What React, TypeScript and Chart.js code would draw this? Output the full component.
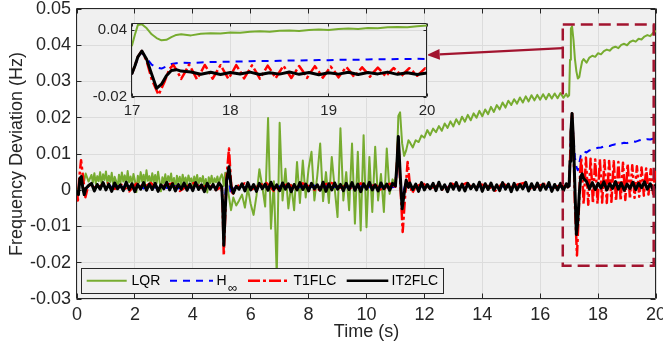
import React, { useEffect, useRef } from "react";
import { Chart, registerables } from "chart.js";

Chart.register(...registerables);

const FONT = '"Liberation Sans", Arial, Helvetica, sans-serif';
const TEXT = "#262626";
const MAROON = "#a2142f";

// ---------- axis ticks ----------
const mainXTicks = [0, 2, 4, 6, 8, 10, 12, 14, 16, 18, 20];
const mainYTicks = [-0.03, -0.02, -0.01, 0, 0.01, 0.02, 0.03, 0.04, 0.05];
const insetXTicks = [17, 18, 19, 20];
const insetYTicks = [-0.02, 0.04];

// ---------- time base (s) for H-inf and IT2FLC ----------
const timeMain = [
  0, 0.05, 0.1, 0.15, 0.2, 0.25, 0.3, 0.4,
  0.5, 0.6, 0.7, 0.8, 0.9, 1.0, 1.1, 1.2, 1.3, 1.4, 1.5, 1.6, 1.7, 1.8, 1.9, 2.0, 2.1, 2.2, 2.3, 2.4, 2.5,
  2.6, 2.7, 2.8, 2.9, 3.0, 3.1, 3.2, 3.3, 3.4, 3.5, 3.6, 3.7, 3.8, 3.9, 4.0, 4.1, 4.2, 4.3, 4.4, 4.5, 4.6, 4.7, 4.8, 4.9,
  5.0, 5.03, 5.07, 5.12, 5.17, 5.25, 5.32, 5.4, 5.5,
  5.6, 5.7, 5.8, 5.9, 6.0, 6.1, 6.2, 6.3, 6.4, 6.5, 6.6, 6.7, 6.8, 6.9, 7.0, 7.1, 7.2, 7.3, 7.4, 7.5, 7.6, 7.7, 7.8, 7.9,
  8.0, 8.1, 8.2, 8.3, 8.4, 8.5, 8.6, 8.7, 8.8, 8.9, 9.0, 9.1, 9.2, 9.3, 9.4, 9.5, 9.6, 9.7, 9.8, 9.9,
  10.0, 10.1, 10.2, 10.3, 10.4, 10.5, 10.6, 10.7, 10.8, 10.9,
  11.0, 11.05, 11.1, 11.16, 11.23, 11.3, 11.37, 11.45,
  11.5, 11.6, 11.7, 11.8, 11.9, 12.0, 12.1, 12.2, 12.3, 12.4, 12.5, 12.6, 12.7, 12.8, 12.9, 13.0, 13.1, 13.2, 13.3, 13.4,
  13.5, 13.6, 13.7, 13.8, 13.9, 14.0, 14.1, 14.2, 14.3, 14.4, 14.5, 14.6, 14.7, 14.8, 14.9, 15.0, 15.1, 15.2, 15.3, 15.4,
  15.5, 15.6, 15.7, 15.8, 15.9, 16.0, 16.1, 16.2, 16.3, 16.4, 16.5, 16.6, 16.7, 16.8, 16.9,
  16.95, 17.0, 17.03, 17.06, 17.1, 17.15, 17.2, 17.25, 17.3, 17.35, 17.4, 17.45, 17.5,
  17.6, 17.7, 17.8, 17.9, 18.0, 18.1, 18.2, 18.3, 18.4, 18.5, 18.6, 18.7, 18.8, 18.9, 19.0, 19.1, 19.2, 19.3, 19.4,
  19.5, 19.6, 19.7, 19.8, 19.9, 20.0,
];

// ---------- LQR has a finer time base in the first 5 s ----------
const lqrTime = [
  0, 0.05, 0.1, 0.15, 0.2, 0.25, 0.3, 0.4,
  0.5, 0.55, 0.6, 0.65, 0.7, 0.75, 0.8, 0.85, 0.9, 0.95, 1.0, 1.05, 1.1, 1.15, 1.2, 1.25, 1.3, 1.35, 1.4, 1.45,
  1.5, 1.55, 1.6, 1.65, 1.7, 1.75, 1.8, 1.85, 1.9, 1.95, 2.0, 2.05, 2.1, 2.15, 2.2, 2.25, 2.3, 2.35, 2.4, 2.45,
  2.5, 2.55, 2.6, 2.65, 2.7, 2.75, 2.8, 2.85, 2.9, 2.95, 3.0, 3.05, 3.1, 3.15, 3.2, 3.25, 3.3, 3.35, 3.4, 3.45,
  3.5, 3.55, 3.6, 3.65, 3.7, 3.75, 3.8, 3.85, 3.9, 3.95, 4.0, 4.05, 4.1, 4.15, 4.2, 4.25, 4.3, 4.35, 4.4, 4.45,
  4.5, 4.55, 4.6, 4.65, 4.7, 4.75, 4.8, 4.85, 4.9, 4.95,
  5.0, 5.03, 5.07, 5.12, 5.17, 5.25, 5.32, 5.4, 5.5,
  5.6, 5.7, 5.8, 5.9, 6.0, 6.1, 6.2, 6.3, 6.4, 6.5, 6.6, 6.7, 6.8, 6.9, 7.0, 7.1, 7.2, 7.3, 7.4, 7.5, 7.6, 7.7, 7.8, 7.9,
  8.0, 8.1, 8.2, 8.3, 8.4, 8.5, 8.6, 8.7, 8.8, 8.9, 9.0, 9.1, 9.2, 9.3, 9.4, 9.5, 9.6, 9.7, 9.8, 9.9,
  10.0, 10.1, 10.2, 10.3, 10.4, 10.5, 10.6, 10.7, 10.8, 10.9,
  11.0, 11.05, 11.1, 11.16, 11.23, 11.3, 11.37, 11.45,
  11.5, 11.6, 11.7, 11.8, 11.9, 12.0, 12.1, 12.2, 12.3, 12.4, 12.5, 12.6, 12.7, 12.8, 12.9, 13.0, 13.1, 13.2, 13.3, 13.4,
  13.5, 13.6, 13.7, 13.8, 13.9, 14.0, 14.1, 14.2, 14.3, 14.4, 14.5, 14.6, 14.7, 14.8, 14.9, 15.0, 15.1, 15.2, 15.3, 15.4,
  15.5, 15.6, 15.7, 15.8, 15.9, 16.0, 16.1, 16.2, 16.3, 16.4, 16.5, 16.6, 16.7, 16.8, 16.9,
  16.95, 17.0, 17.03, 17.06, 17.1, 17.15, 17.2, 17.25, 17.3, 17.35, 17.4, 17.45, 17.5,
  17.6, 17.7, 17.8, 17.9, 18.0, 18.1, 18.2, 18.3, 18.4, 18.5, 18.6, 18.7, 18.8, 18.9, 19.0, 19.1, 19.2, 19.3, 19.4,
  19.5, 19.6, 19.7, 19.8, 19.9, 20.0,
];

const lqrValues = [
  0, 0.0006, 0.0021, 0.0036, 0.0044, 0.0027, 0.0046, 0.0024,
  0.0042, 0.0021, 0.0047, 0.0018, 0.0039, 0.0025, 0.005, 0.0016, 0.0044, 0.0028,
  0.0052, 0.0019, 0.004, 0.0023, 0.0048, 0.0014, 0.0037, 0.0026, 0.0006, 0.0043,
  0.002, 0.0049, 0.0024, 0.0041, 0.0017, 0.0053, 0.0022, 0.0038, 0.0015, 0.0045,
  0.0027, -0.0005, 0.004, 0.0021, 0.005, 0.0024, 0.0043, 0.0018, 0.0055, 0.0026,
  0.0039, 0.0016, 0.0047, 0.0023, 0.0042, 0.0019, 0.0051, 0.0025, -0.0003, 0.0036,
  0.002, 0.0044, 0.0017, 0.0039, 0.0024, 0.0046, 0.0015, 0.0034, 0.0002, 0.004,
  0.0021, 0.0037, 0.0014, 0.0043, 0.0022, 0.0035, 0.0016, 0.0041, 0.0025, 0.0033,
  0.0013, 0.0038, 0.002, 0.0042, 0.0017, 0.0034, 0.0023, 0.0039, 0.0011, 0.0031,
  -0.0006, 0.0036, 0.0019, 0.004, 0.0015, 0.0033, 0.0022, 0.0038, 0.0018, 0.0035,
  0.0044, 0.0035, 0.0012, 0.0048, 0.0025, -0.0018, -0.0055, -0.002, -0.0042,
  -0.0028, -0.0012, -0.0048, 0.0006, -0.0038,
  -0.0068, -0.0015, 0.0058, 0.001, -0.0045,
  0.0199, -0.0106, 0.0025, -0.0235, 0.0186,
  -0.0028, 0.0059, -0.005, 0.0015, -0.0055,
  0.0078, -0.0035, 0.0082, -0.002, 0.006,
  0.0106, -0.0028, 0.004, 0.0129, -0.003,
  0.005, -0.0035, 0.0092, 0.0005, -0.0074,
  0.0171, -0.0028, 0.005, -0.0055, 0.0129,
  -0.0092, 0.0106, -0.0111, 0.0152, -0.0102,
  0.0092, -0.006, 0.012, -0.0028, 0.0045,
  -0.006, 0.0115, -0.001, 0.003,
  0.0015, 0.008, 0.0205, 0.0215, 0.013, 0.0095, 0.011, 0.0138,
  0.0132, 0.0118, 0.0138, 0.0133, 0.0151,
  0.0145, 0.0166, 0.0152, 0.017, 0.016,
  0.0177, 0.0164, 0.0184, 0.0172, 0.019,
  0.0176, 0.0196, 0.0182, 0.0203, 0.0189,
  0.0208, 0.0193, 0.0212, 0.02, 0.0219,
  0.0204, 0.0223, 0.021, 0.023, 0.0216,
  0.0235, 0.0223, 0.0242, 0.0228, 0.0247,
  0.0235, 0.0251, 0.0239, 0.0256, 0.0242,
  0.0259, 0.0245, 0.0262, 0.0248, 0.0263,
  0.025, 0.0265, 0.0251, 0.0266, 0.0253,
  0.0267, 0.0254, 0.0268, 0.0255, 0.0266,
  0.0258, 0.0262, 0.036, 0.0446, 0.0452, 0.0415, 0.0362, 0.0328, 0.0308, 0.0312, 0.0336, 0.0356, 0.0362,
  0.0352, 0.0366, 0.0371, 0.0368, 0.0378,
  0.0375, 0.0384, 0.0388, 0.0385, 0.0393,
  0.0396, 0.0392, 0.0401, 0.0404, 0.04,
  0.0409, 0.0413, 0.041, 0.0418, 0.0416,
  0.0424, 0.0428, 0.0425, 0.0434, 0.044,
];

const hinfValues = [
  0, -0.0008, 0.003, 0.0042, 0.0012, -0.0004, 0.0006, 0.001,
  0.001, 0.0007, 0.0012, 0.0008, 0.0011,
  0.0006, 0.0013, 0.0009, 0.0007, 0.0012,
  0.0008, 0.001, 0.0006, 0.0011, 0.0009,
  0.0013, 0.0007, 0.001, 0.0005, 0.0012,
  0.0008, 0.0011, 0.0007, 0.001, 0.0009,
  0.0013, 0.0006, 0.001, 0.0008, 0.0012,
  0.0005, 0.0011, 0.0009, 0.0012, 0.0007,
  0.001, 0.0006, 0.0013, 0.0009, 0.0008,
  0.0011, 0.0006, 0.001, 0.0008, 0.0012,
  0.0009, -0.002, -0.009, -0.0015, 0.0035, 0.0028, -0.0015, 0.0004, 0.001,
  0.0009, 0.0011, 0.0007, 0.0012, 0.0008,
  0.001, 0.0006, 0.0013, 0.0009, 0.0011,
  0.0007, 0.0012, 0.001, 0.0006, 0.0011,
  0.0008, 0.0013, 0.0009, 0.001, 0.0007,
  0.0012, 0.0008, 0.0011, 0.0006, 0.001,
  0.0009, 0.0013, 0.0007, 0.0011, 0.0008,
  0.0012, 0.0006, 0.001, 0.0009, 0.0011,
  0.0007, 0.0013, 0.0008, 0.001, 0.0006,
  0.0012, 0.0009, 0.0011, 0.0007, 0.001,
  0.0008, 0.0013, 0.0006, 0.0011, 0.0009,
  0.001, 0.0007, 0.0012, 0.0008,
  0.001, 0.005, 0.0105, 0.0045, -0.002, 0.0004, 0.0025, 0.001,
  0.001, 0.0008, 0.0012, 0.0007, 0.0011,
  0.0009, 0.0013, 0.0006, 0.001, 0.0008,
  0.0012, 0.0007, 0.0011, 0.0009, 0.001,
  0.0006, 0.0013, 0.0008, 0.0011, 0.0007,
  0.0012, 0.0009, 0.001, 0.0006, 0.0011,
  0.0008, 0.0013, 0.0007, 0.001, 0.0009,
  0.0012, 0.0006, 0.0011, 0.0008, 0.001,
  0.0007, 0.0013, 0.0009, 0.0011, 0.0006,
  0.0012, 0.0008, 0.001, 0.0007, 0.0011,
  0.0009, 0.0013, 0.0006, 0.001, 0.0008,
  0.0012, 0.0007, 0.0011, 0.0009, 0.001,
  0.0009, 0.0011, 0.0075, 0.015, 0.02, 0.0145, 0.009, 0.0065, 0.0055, 0.0075, 0.0095, 0.0102, 0.0108,
  0.0104, 0.011, 0.0113, 0.0115, 0.0117,
  0.0118, 0.0121, 0.0123, 0.0122, 0.0125,
  0.0127, 0.0126, 0.0129, 0.0131, 0.013,
  0.0133, 0.0135, 0.0134, 0.0137, 0.0139,
  0.0138, 0.0141, 0.014, 0.0142, 0.0141,
];

const it2Values = [
  0, -0.0012, 0.0032, 0.0038, 0.0006, -0.0012, 0.0004, 0.0013,
  0.0019, -0.0002, 0.0016, 0.0003, 0.0021,
  0.0001, 0.0017, -0.0003, 0.002, 0.0004,
  0.0015, -0.0001, 0.0022, 0.0002, 0.0018,
  -0.0004, 0.0016, 0.0003, 0.0021, 0.0,
  0.0017, 0.0002, 0.0019, -0.0003, 0.0015,
  0.0004, 0.0022, 0.0001, 0.0018, -0.0002,
  0.0016, 0.0003, 0.002, 0.0, 0.0017,
  -0.0001, 0.0021, 0.0002, 0.0015, -0.0004,
  0.0019, 0.0003, 0.0016, 0.0001, 0.002,
  0.0009, -0.0035, -0.0152, -0.0055, 0.0028, 0.0065, 0.0012, -0.0008, 0.0011,
  0.0003, 0.0018, -0.0002, 0.0021, 0.0001,
  0.0016, -0.0003, 0.0019, 0.0004, 0.0017,
  0.0, 0.0022, 0.0002, 0.0015, -0.0001,
  0.002, 0.0003, 0.0018, -0.0004, 0.0016,
  0.0001, 0.0021, 0.0002, 0.0017, -0.0002,
  0.0019, 0.0004, 0.0015, 0.0, 0.0022,
  -0.0003, 0.0018, 0.0001, 0.002, 0.0003,
  0.0016, -0.0001, 0.0019, 0.0002, 0.0021,
  0.0, 0.0017, -0.0004, 0.0018, 0.0003,
  0.0022, 0.0001, 0.0015, -0.0002, 0.002,
  0.0004, 0.0017, 0.0, 0.0019,
  0.0012, 0.007, 0.0148, 0.005, -0.0051, -0.001, 0.0028, 0.0008,
  0.002, 0.0002, 0.0017, -0.0003, 0.0021,
  0.0001, 0.0016, 0.0004, 0.0019, -0.0001,
  0.0022, 0.0002, 0.0015, -0.0004, 0.0018,
  0.0003, 0.0021, 0.0, 0.0017, -0.0002,
  0.0019, 0.0004, 0.0016, 0.0001, 0.0022,
  -0.0003, 0.0018, 0.0002, 0.002, 0.0,
  0.0015, -0.0001, 0.0021, 0.0003, 0.0017,
  -0.0004, 0.0019, 0.0001, 0.0016, 0.0004,
  0.0022, -0.0002, 0.0018, 0.0002, 0.002,
  0.0, 0.0017, 0.0003, 0.0021, -0.0003,
  0.0016, 0.0001, 0.0019, -0.0001, 0.0018,
  0.0009, 0.0012, 0.008, 0.016, 0.0212, 0.0135, 0.0005, -0.0122, -0.0085, -0.001, 0.0038, 0.0045, 0.0032,
  0.0024, 0.0004, 0.0021, 0.0002, 0.0019,
  0.0006, 0.0023, 0.0001, 0.0018, 0.0005,
  0.0024, 0.0003, 0.002, 0.0, 0.0017,
  0.0005, 0.0022, 0.0002, 0.0019, 0.0007,
  0.0023, 0.0003, 0.0018, 0.0001, 0.0016,
];

// ---------- T1FLC has its own time base ----------
const t1Time = [
  0, 0.03, 0.08, 0.14, 0.2, 0.29, 0.36, 0.45, 0.6,
  0.8, 1.05, 1.3, 1.55, 1.8, 2.05, 2.3, 2.55, 2.8, 3.05, 3.3, 3.55, 3.8, 4.05, 4.3, 4.55, 4.8,
  5.0, 5.03, 5.07, 5.12, 5.17, 5.25, 5.32, 5.37, 5.45, 5.55,
  5.8, 6.05, 6.3, 6.55, 6.8, 7.05, 7.3, 7.55, 7.8, 8.05, 8.3, 8.55, 8.8, 9.05, 9.3, 9.55, 9.8, 10.05, 10.3, 10.55, 10.8,
  11.0, 11.05, 11.1, 11.16, 11.25, 11.33, 11.42, 11.5, 11.58, 11.7,
  11.95, 12.2, 12.45, 12.7, 12.95, 13.2, 13.45, 13.7, 13.95, 14.2, 14.45, 14.7, 14.95, 15.2, 15.45, 15.7, 15.95, 16.2, 16.45, 16.7,
  16.95, 17.0, 17.03, 17.06, 17.1, 17.15, 17.2, 17.27, 17.33, 17.38,
  17.42, 17.46, 17.5, 17.54, 17.58, 17.62, 17.66, 17.7, 17.74, 17.78, 17.82, 17.86, 17.9, 17.94, 17.98,
  18.02, 18.06, 18.1, 18.14, 18.18, 18.22, 18.26, 18.3, 18.34, 18.38, 18.42, 18.46, 18.5, 18.54, 18.58,
  18.62, 18.66, 18.7, 18.74, 18.78, 18.82, 18.86, 18.9, 18.94, 18.98, 19.02, 19.06, 19.1, 19.14, 19.18,
  19.22, 19.26, 19.3, 19.34, 19.38, 19.42, 19.46, 19.5, 19.54, 19.58, 19.62, 19.66, 19.7, 19.74, 19.78,
  19.82, 19.86, 19.9, 19.94, 19.98, 20.0,
];

const t1Values = [
  0, -0.0028, 0.0035, 0.0083, 0.0042, -0.0019, 0.0004, 0.0016, 0.0008,
  0.0012, 0.0019, 0.0004, 0.0015, -0.0003, 0.0018, 0.0008, 0.002, 0.0002, 0.0014, 0.0019, -0.0002, 0.0011, 0.002, 0.0006, 0.0016, 0.0001,
  0.0009, -0.004, -0.018, -0.007, 0.004, 0.0115, 0.002, -0.0014, 0.0005, 0.0012,
  0.0019, 0.0003, 0.0014, 0.002, -0.0002, 0.0011, 0.0017, 0.0005, 0.0019, 0.0009, -0.0003, 0.0016, 0.002, 0.0006, 0.0013, 0.0001, 0.0019, 0.0008, 0.0015, -0.0001, 0.0018,
  0.001, 0.007, 0.0142, 0.003, -0.0115, -0.002, 0.0078, 0.0015, -0.0008, 0.001,
  0.0019, 0.0005, 0.0013, -0.0002, 0.0018, 0.0009, 0.002, 0.0004, 0.0016, 0.0011, -0.0001, 0.0019, 0.0007, 0.0015, 0.002, 0.0003, 0.0012, 0.0019, 0.0006, 0.0014,
  0.0008, 0.0012, 0.008, 0.016, 0.0212, 0.012, -0.004, -0.018, -0.0065, 0.005,
  0.0088, 0.003, -0.0038, 0.0022, 0.009, 0.0028, -0.004, 0.002, 0.0087, 0.0031, -0.0036, 0.0024, 0.0085, 0.0026, -0.0037,
  0.0021, 0.0086, 0.0029, -0.0034, 0.0025, 0.0083, 0.0027, -0.0035, 0.0022, 0.0081, 0.003, -0.0032, 0.0024, 0.008, 0.0026,
  -0.003, 0.0023, 0.0078, 0.0028, -0.0029, 0.0025, 0.0076, 0.0027, -0.0027, 0.0022, 0.0073, 0.0029, -0.0024, 0.0024, 0.0069,
  0.0026, -0.0021, 0.0023, 0.0066, 0.0028, -0.0018, 0.0025, 0.0063, 0.0027, -0.0015, 0.0022, 0.006, 0.0029, -0.0012, 0.0024,
  0.0058, 0.0026, -0.001, 0.0023, 0.0056, 0.004,
];

const seriesLabels = ["LQR", "H∞", "T1FLC", "IT2FLC"];

// annotation (data coordinates of the main axes)
const zoomBoxTime = [16.78, 19.92];
const zoomBoxValue = [-0.0208, 0.0457];
const arrowTime = [16.78, 12.08]; // tail, head
const arrowValue = [0.0392, 0.0373];

function zip(times: number[], values: number[], name: string) {
  if (times.length !== values.length) {
    throw new Error(`length mismatch for ${name}: ${times.length} times vs ${values.length} values`);
  }
  return times.map((t, i) => ({ x: t, y: values[i] }));
}

const STYLES = [
  { color: "#77ac30", width: 2, dash: [] as number[] },
  { color: "#0000ff", width: 2, dash: [7, 6] },
  { color: "#ff0000", width: 2.5, dash: [12, 3, 3, 3] },
  { color: "#000000", width: 3, dash: [] as number[] },
];

function makeDatasets() {
  const raw = [
    zip(lqrTime, lqrValues, "LQR"),
    zip(timeMain, hinfValues, "Hinf"),
    zip(t1Time, t1Values, "T1FLC"),
    zip(timeMain, it2Values, "IT2FLC"),
  ];
  return raw.map((data, i) => ({
    label: seriesLabels[i],
    data,
    borderColor: STYLES[i].color,
    borderWidth: STYLES[i].width,
    borderDash: STYLES[i].dash,
    borderJoinStyle: "round",
    pointRadius: 0,
    pointHoverRadius: 0,
    fill: false,
    tension: 0,
    clip: 0,
    order: 4 - i,
  }));
}

function align(px: number) {
  return Math.round(px - 0.5) + 0.5;
}

function drawBoxAndTicks(chart: any, xTicks: number[], yTicks: number[], len: number) {
  const { ctx, chartArea: a, scales } = chart;
  const L = Math.round(a.left) - 0.5;
  const R = Math.round(a.right) - 0.5;
  const T = Math.round(a.top) - 0.5;
  const B = Math.round(a.bottom) - 0.5;
  ctx.save();
  ctx.strokeStyle = TEXT;
  ctx.lineWidth = 1;
  ctx.setLineDash([]);
  ctx.beginPath();
  ctx.rect(L, T, R - L, B - T);
  for (const v of xTicks) {
    const px = align(scales.x.getPixelForValue(v));
    ctx.moveTo(px, B);
    ctx.lineTo(px, B - len);
    ctx.moveTo(px, T);
    ctx.lineTo(px, T + len);
  }
  for (const v of yTicks) {
    const py = align(scales.y.getPixelForValue(v));
    ctx.moveTo(L, py);
    ctx.lineTo(L + len, py);
    ctx.moveTo(R, py);
    ctx.lineTo(R - len, py);
  }
  ctx.stroke();
  ctx.restore();
}

function fillArea(chart: any) {
  const { ctx, chartArea: a } = chart;
  ctx.save();
  ctx.fillStyle = "#f0f0f0";
  ctx.fillRect(a.left, a.top, a.right - a.left, a.bottom - a.top);
  ctx.restore();
}

function drawAnnotations(chart: any) {
  const { ctx, scales } = chart;
  const x0 = scales.x.getPixelForValue(zoomBoxTime[0]);
  const x1 = scales.x.getPixelForValue(zoomBoxTime[1]);
  const y0 = scales.y.getPixelForValue(zoomBoxValue[0]);
  const y1 = scales.y.getPixelForValue(zoomBoxValue[1]);
  ctx.save();
  ctx.strokeStyle = MAROON;
  ctx.lineWidth = 2.5;
  ctx.setLineDash([12, 6]);
  ctx.strokeRect(x0, y1, x1 - x0, y0 - y1);
  ctx.setLineDash([]);
  // arrow
  const tx = scales.x.getPixelForValue(arrowTime[0]);
  const ty = scales.y.getPixelForValue(arrowValue[0]);
  const hx = scales.x.getPixelForValue(arrowTime[1]);
  const hy = scales.y.getPixelForValue(arrowValue[1]);
  const ang = Math.atan2(hy - ty, hx - tx);
  const headLen = 13;
  const headHalf = 5.5;
  const bx = hx - headLen * Math.cos(ang);
  const by = hy - headLen * Math.sin(ang);
  ctx.lineWidth = 2.2;
  ctx.beginPath();
  ctx.moveTo(tx, ty);
  ctx.lineTo(bx, by);
  ctx.stroke();
  ctx.fillStyle = MAROON;
  ctx.beginPath();
  ctx.moveTo(hx, hy);
  ctx.lineTo(bx - headHalf * Math.sin(ang), by + headHalf * Math.cos(ang));
  ctx.lineTo(bx + headHalf * Math.sin(ang), by - headHalf * Math.cos(ang));
  ctx.closePath();
  ctx.fill();
  ctx.restore();
}

const LEGEND = {
  box: [81.5, 268.5, 362, 25],
  cy: 280.7,
  lines: [
    [86.7, 126.7],
    [170, 213],
    [248, 290],
    [346.7, 388.3],
  ],
  textX: [131.5, 216.5, 293.5, 391.5],
};

function drawLegend(chart: any) {
  const { ctx } = chart;
  ctx.save();
  const [bx, by, bw, bh] = LEGEND.box;
  ctx.fillStyle = "#f0f0f0";
  ctx.fillRect(bx, by, bw, bh);
  ctx.strokeStyle = TEXT;
  ctx.lineWidth = 1;
  ctx.setLineDash([]);
  ctx.strokeRect(bx, by, bw, bh);
  for (let i = 0; i < 4; i++) {
    const s = STYLES[i];
    ctx.strokeStyle = s.color;
    ctx.lineWidth = Math.min(s.width, 2.5);
    ctx.setLineDash(s.dash);
    ctx.beginPath();
    ctx.moveTo(LEGEND.lines[i][0], LEGEND.cy);
    ctx.lineTo(LEGEND.lines[i][1], LEGEND.cy);
    ctx.stroke();
  }
  ctx.setLineDash([]);
  ctx.fillStyle = "#000";
  ctx.textBaseline = "middle";
  ctx.textAlign = "left";
  ctx.font = `14px ${FONT}`;
  ctx.fillText("LQR", LEGEND.textX[0], LEGEND.cy);
  ctx.fillText("H", LEGEND.textX[1], LEGEND.cy);
  ctx.fillText("T1FLC", LEGEND.textX[2], LEGEND.cy);
  ctx.fillText("IT2FLC", LEGEND.textX[3], LEGEND.cy);
  ctx.font = `13px ${FONT}`;
  ctx.fillText("∞", LEGEND.textX[1] + 11.5, LEGEND.cy + 7.5);
  ctx.restore();
}

function mainConfig(): any {
  const tickFont = { family: FONT, size: 18 };
  return {
    type: "line",
    data: { datasets: makeDatasets() },
    options: {
      animation: false,
      responsive: false,
      devicePixelRatio: 1,
      events: [],
      layout: { padding: { top: 9, right: 7, left: 0, bottom: 0 } },
      plugins: { legend: { display: false }, tooltip: { enabled: false } },
      scales: {
        x: {
          type: "linear",
          min: 0,
          max: 20,
          afterBuildTicks: (s: any) => {
            s.ticks = mainXTicks.map((v) => ({ value: v }));
          },
          afterFit: (s: any) => {
            s.height = 53;
            s.paddingLeft = 0;
            s.paddingRight = 0;
          },
          ticks: {
            font: tickFont,
            color: TEXT,
            padding: 5,
            maxRotation: 0,
            autoSkip: false,
            callback: (v: any) => String(v),
          },
          grid: { color: "#dcdcdc", drawTicks: false, lineWidth: 1 },
          border: { display: false },
          title: {
            display: true,
            text: "Time (s)",
            font: tickFont,
            color: TEXT,
            padding: { top: 0, bottom: 9 },
          },
        },
        y: {
          type: "linear",
          min: -0.03,
          max: 0.05,
          afterBuildTicks: (s: any) => {
            s.ticks = mainYTicks.map((v) => ({ value: v }));
          },
          afterFit: (s: any) => {
            s.width = 77;
            s.paddingTop = 0;
            s.paddingBottom = 0;
          },
          ticks: {
            font: tickFont,
            color: TEXT,
            padding: 6,
            autoSkip: false,
            callback: (v: any) => (Math.abs(v) < 1e-9 ? "0" : Number(v).toFixed(2)),
          },
          grid: { color: "#dcdcdc", drawTicks: false, lineWidth: 1 },
          border: { display: false },
          title: {
            display: true,
            text: "Frequency Deviation (Hz)",
            font: tickFont,
            color: TEXT,
            padding: { top: 6, bottom: 0 },
          },
        },
      },
    },
    plugins: [
      {
        id: "mainDecor",
        beforeDraw: (chart: any) => fillArea(chart),
        beforeDatasetsDraw: (chart: any) => drawBoxAndTicks(chart, mainXTicks, mainYTicks, 5),
        afterDraw: (chart: any) => {
          drawAnnotations(chart);
          drawLegend(chart);
        },
      },
    ],
  };
}

function insetConfig(): any {
  const tickFont = { family: FONT, size: 15 };
  return {
    type: "line",
    data: { datasets: makeDatasets() },
    options: {
      animation: false,
      responsive: false,
      devicePixelRatio: 1,
      events: [],
      layout: { padding: { top: 10, right: 15, left: 0, bottom: 0 } },
      plugins: { legend: { display: false }, tooltip: { enabled: false } },
      scales: {
        x: {
          type: "linear",
          min: 17,
          max: 20,
          afterBuildTicks: (s: any) => {
            s.ticks = insetXTicks.map((v) => ({ value: v }));
          },
          afterFit: (s: any) => {
            s.height = 29;
            s.paddingLeft = 0;
            s.paddingRight = 0;
          },
          ticks: {
            font: tickFont,
            color: TEXT,
            padding: 5,
            maxRotation: 0,
            autoSkip: false,
            callback: (v: any) => String(v),
          },
          grid: { color: "#dcdcdc", drawTicks: false, lineWidth: 1 },
          border: { display: false },
        },
        y: {
          type: "linear",
          min: -0.02,
          max: 0.0454,
          afterBuildTicks: (s: any) => {
            s.ticks = insetYTicks.map((v) => ({ value: v }));
          },
          afterFit: (s: any) => {
            s.width = 52;
            s.paddingTop = 0;
            s.paddingBottom = 0;
          },
          ticks: {
            font: tickFont,
            color: TEXT,
            padding: 5,
            autoSkip: false,
            callback: (v: any) => Number(v).toFixed(2),
          },
          grid: { color: "#dcdcdc", drawTicks: false, lineWidth: 1 },
          border: { display: false },
        },
      },
    },
    plugins: [
      {
        id: "insetDecor",
        beforeDraw: (chart: any) => fillArea(chart),
        beforeDatasetsDraw: (chart: any) => drawBoxAndTicks(chart, insetXTicks, insetYTicks, 3),
      },
    ],
  };
}

export default function App() {
  const mainRef = useRef<HTMLCanvasElement>(null);
  const insetRef = useRef<HTMLCanvasElement>(null);

  useEffect(() => {
    Chart.defaults.font.family = FONT;
    const main = new Chart(mainRef.current as HTMLCanvasElement, mainConfig());
    const inset = new Chart(insetRef.current as HTMLCanvasElement, insetConfig());
    return () => {
      main.destroy();
      inset.destroy();
    };
  }, []);

  return (
    <div style={{ position: "fixed", left: 0, top: 0, width: 663, height: 352, background: "#ffffff" }}>
      <canvas
        ref={mainRef}
        width={663}
        height={352}
        style={{ position: "absolute", left: 0, top: 0, width: 663, height: 352 }}
      />
      <canvas
        ref={insetRef}
        width={362}
        height={112}
        style={{ position: "absolute", left: 80, top: 14, width: 362, height: 112 }}
      />
    </div>
  );
}
